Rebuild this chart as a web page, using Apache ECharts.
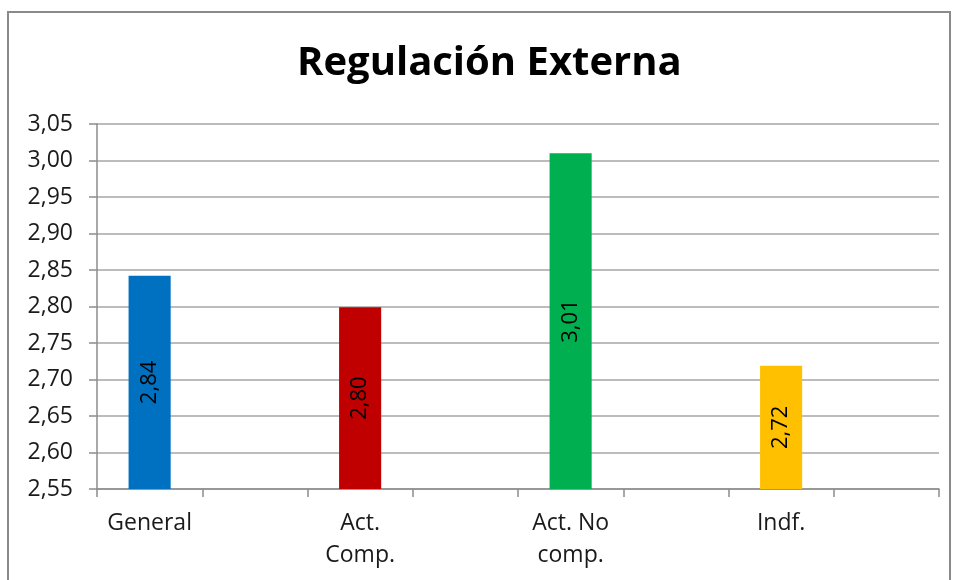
<!DOCTYPE html>
<html>
<head>
<meta charset="utf-8">
<script src="https://cdn.jsdelivr.net/npm/echarts@6/dist/echarts.min.js"></script>
<style>
html,body{margin:0;padding:0;background:#fff;}
#chart{width:957px;height:580px;}
</style>
</head>
<body>
<div id="chart"></div>
<script>
const titleText = 'Regulación Externa';
const categories = ['General', 'Act.\nComp.', 'Act. No\ncomp.', 'Indf.'];
const values = [2.842, 2.799, 3.010, 2.719];
const colors = ['#0070C0', '#C00000', '#00B050', '#FFC000'];
const yTicks = { min: 2.55, max: 3.05, step: 0.05 };

// Each category occupies a slot followed by an empty slot (as in the original chart)
const slots = [];
const slotData = [];
categories.forEach((c, i) => {
  slots.push(c);
  slotData.push({ value: values[i], itemStyle: { color: colors[i] } });
  slots.push('_gap' + i);
  slotData.push('-');
});

const fontFamily = '"Open Sans", "Noto Sans", sans-serif';
const chart = echarts.init(document.getElementById('chart'), null, { renderer: 'canvas' });
chart.setOption({
  backgroundColor: '#fff',
  animation: false,
  title: {
    text: titleText,
    left: 292,
    top: 39,
    textStyle: { fontFamily, fontSize: 40, fontWeight: 'bold', color: '#000' }
  },
  graphic: [{
    type: 'rect',
    shape: { x: 8, y: 12, width: 942, height: 620 },
    style: { fill: null, stroke: '#8a8a8a', lineWidth: 2 },
    silent: true
  }],
  grid: { left: 97, right: 18, top: 124, bottom: 91, containLabel: false },
  xAxis: {
    type: 'category',
    data: slots,
    boundaryGap: true,
    axisLine: { show: true, lineStyle: { color: '#8c8c8c', width: 1.5 } },
    axisTick: { show: true, interval: 0, length: 8, lineStyle: { color: '#8c8c8c', width: 1.5 } },
    axisLabel: {
      interval: 0,
      margin: 18,
      fontFamily, fontSize: 23, color: '#1a1a1a', lineHeight: 32,
      formatter: v => v.startsWith('_gap') ? '' : v
    }
  },
  yAxis: {
    type: 'value',
    min: yTicks.min,
    max: yTicks.max,
    interval: yTicks.step,
    axisLine: { show: true, lineStyle: { color: '#8c8c8c', width: 1.5 } },
    axisTick: { show: true, length: 8, lineStyle: { color: '#8c8c8c', width: 1.5 } },
    splitLine: { show: true, lineStyle: { color: '#a6a6a6', width: 1.5 } },
    axisLabel: {
      margin: 24,
      fontFamily, fontSize: 23, color: '#1a1a1a',
      formatter: v => v.toFixed(2).replace('.', ',')
    }
  },
  series: [{
    type: 'bar',
    data: slotData,
    barWidth: '40%',
    label: {
      show: true,
      position: 'inside',
      rotate: 90,
      fontFamily, fontSize: 22, color: '#000',
      formatter: p => Number(p.value).toFixed(2).replace('.', ',')
    }
  }]
});
</script>
</body>
</html>
